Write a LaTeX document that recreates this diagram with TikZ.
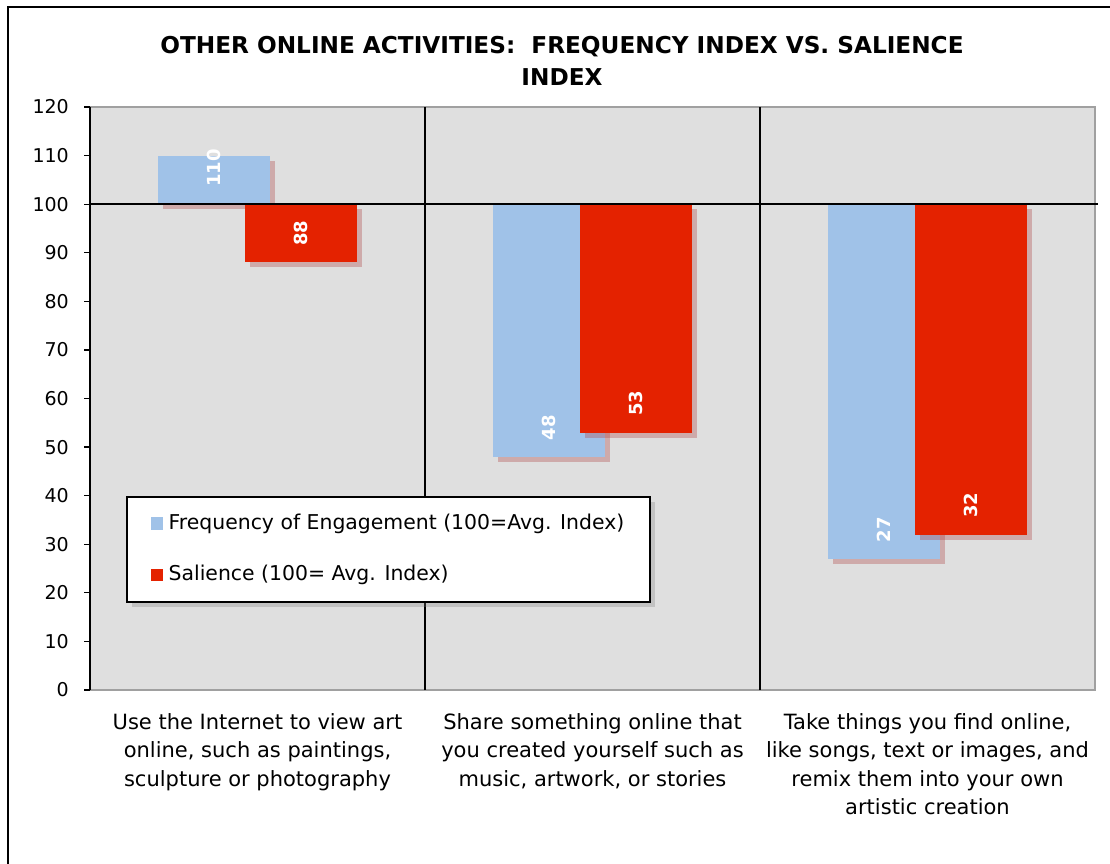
\documentclass[tikz,border=0pt]{standalone}
\usepackage{fontspec}
\setmainfont{DejaVu Sans}
\usetikzlibrary{positioning, shadows}
\definecolor{freqblue}{HTML}{A0C2E8}
\definecolor{salred}{HTML}{E42200}
\definecolor{plotbg}{HTML}{DFDFDF}
\definecolor{axisgray}{HTML}{A0A0A0}
\definecolor{barshade}{HTML}{B04848}

\begin{document}
\begin{tikzpicture}[x=1pt, y=1pt,
  barshadow/.style={drop shadow={shadow xshift=5pt, shadow yshift=-5pt, fill=barshade, opacity=0.35}},
  freqbar/.style={fill=freqblue, barshadow},
  salbar/.style={fill=salred, barshadow},
  barlabel/.style={text=white, rotate=90, inner sep=0pt, font=\fontsize{18}{18}\selectfont\bfseries},
  ticklabel/.style={anchor=east, inner sep=0pt, font=\fontsize{19}{20}\selectfont},
  catlabel/.style={anchor=north, align=center, inner sep=0pt, font=\fontsize{21}{28.5}\selectfont},
  keybox/.style={fill=#1, minimum size=12.5pt, inner sep=0pt},
  keytext/.style={inner sep=0pt, font=\fontsize{20.4}{22}\selectfont}
]
\useasboundingbox (0,0) rectangle (1110,863);
% outer frame, runs off the page on the right and at the bottom
\draw[line width=2.5pt] (8,-20) -- (8,856) -- (1130,856);

\node[align=center, font=\fontsize{23.2}{31.4}\selectfont\bfseries] (title) at (562,802)
  {OTHER ONLINE ACTIVITIES: \ FREQUENCY INDEX VS. SALIENCE\\INDEX};

% plot area, y in index units
\begin{scope}[shift={(90,173)}, y=4.858pt]
  \fill[plotbg] (0,0) rectangle (1005,120);
  \draw[axisgray, line width=1.5pt] (0,0) -- (1005,0) -- (1005,120) -- (0,120);
  \draw[line width=1.2pt] (335,0) -- (335,120) (670,0) -- (670,120);
  \foreach \v in {0,10,...,120}{
    \draw[line width=1.2pt] (-6,\v) -- (0,\v);
    \node[ticklabel] (tick\v) at (-21,\v) {\v};
  }
  \draw[line width=1.5pt] (0,0) -- (0,120);

  \foreach \i/\f/\fy/\s in {0/110/107.5/88, 1/48/54/53, 2/27/33/32}{
    \fill[freqbar] (68+335*\i,100) rectangle ++(112,\f-100);
    \fill[salbar] (155+335*\i,100) rectangle ++(112,\s-100);
    \node[barlabel] (fval\i) at (124+335*\i,\fy) {\f};
    \node[barlabel] (sval\i) at (211+335*\i,\s+6) {\s};
  }
  \draw[line width=1.5pt] (0,100) -- (1008,100);
\end{scope}

% legend
\node[draw, line width=2pt, fill=white, minimum width=523pt, minimum height=105pt,
  drop shadow={shadow xshift=5pt, shadow yshift=-5pt, opacity=0.3}] (legend) at (388.5,313.5) {};
\node[keybox=freqblue] (keyfreq) at (157,339.5) {};
\node[keytext, right=5pt of keyfreq] (keyfreqtext) {Frequency of Engagement (100=Avg. Index)};
\node[keybox=salred, below=38.5pt of keyfreq] (keysal) {};
\node[keytext, right=5pt of keysal] (keysaltext) {Salience (100= Avg. Index)};

% category labels
\node[catlabel] (cat1) at (257.5,150) {Use the Internet to view art\\online, such as paintings,\\sculpture or photography};
\node[catlabel] (cat2) at (592.5,150) {Share something online that\\you created yourself such as\\music, artwork, or stories};
\node[catlabel] (cat3) at (927.5,150) {Take things you find online,\\like songs, text or images, and\\remix them into your own\\artistic creation};
\end{tikzpicture}
\end{document}
